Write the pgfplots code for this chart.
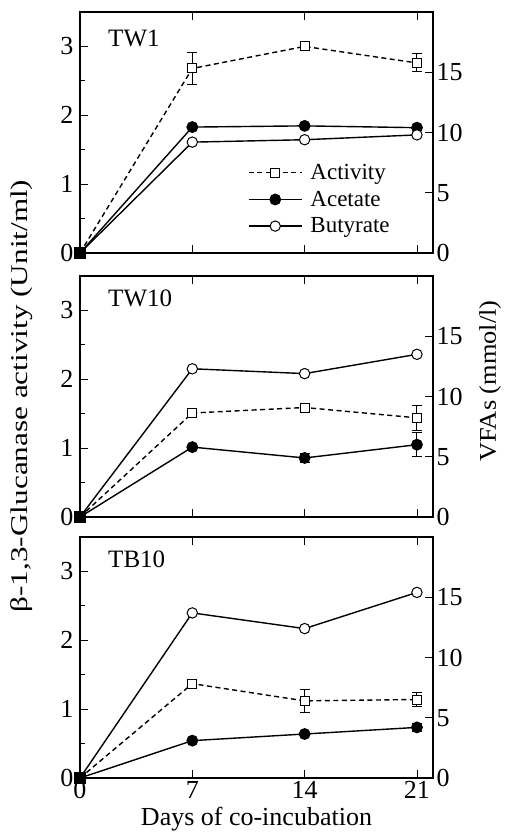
\documentclass[border=0pt]{standalone}
\usepackage{fontspec}
\setmainfont{Liberation Serif}
\usepackage{pgfplots}
\pgfplotsset{compat=1.18}
\newcommand{\fs}[1]{\fontsize{#1}{#1}\selectfont}

\pgfplotsset{
  panel/.style={scale only axis, width=353pt, height=241pt, anchor=south west,
    xmin=0, xmax=22, clip=false, tick align=inside,
    axis line style={line width=1.2pt}, every tick/.style={black, line width=0.9pt},
    major tick length=8pt, minor tick length=5pt,
    tick label style={font=\fs{26}}, /pgf/number format/assume math mode=true},
  lpanel/.style={panel, ymin=0, ymax=3.5, ytick={0,1,2,3}, minor ytick={0.5,1.5,2.5},
    ytick pos=left, xtick={0,7,14,21}, yticklabel style={xshift=-3pt}},
  rpanel/.style={panel, ymin=0, ymax=20, ytick={0,5,10,15},
    axis y line*=right, axis x line=none},
  ebar/.style={error bars/.cd, y dir=both, y explicit,
    error bar style={solid, line width=1pt},
    error mark options={solid, mark size=5pt, line width=1pt, rotate=90}},
  actline/.style={black, line width=1.4pt, dash pattern=on 5pt off 3.5pt,
    mark=square*, mark size=4.5pt, mark options={solid, fill=white, line width=1pt}},
  act/.style={actline, ebar},
  acet/.style={black, line width=1.4pt, mark=*, mark size=5.2pt, ebar},
  buty/.style={black, line width=1.4pt, mark=*, mark size=5.2pt,
    mark options={fill=white, line width=1pt}},
  orig/.style={black, only marks, mark=square*, mark size=5.5pt},
  legend image code/.code={\draw[mark repeat=2,mark phase=2,#1]
    plot coordinates {(0pt,0pt)(26.5pt,0pt)(53pt,0pt)};},
}

\begin{document}
\begin{tikzpicture}[x=1pt,y=1pt]
\useasboundingbox (-80,0) rectangle (425,836);

% TW1
\begin{axis}[lpanel, at={(0pt,583pt)}, xticklabels={}]
\addplot[act] coordinates {(0,0) (7,2.68) +- (0,0.23) (14,3.0) +- (0,0.04) (21,2.76) +- (0,0.13)};
\node[anchor=base west, font=\fs{25}] at (rel axis cs:0.07,0.858) {TW1};
\end{axis}
\begin{axis}[rpanel, at={(0pt,583pt)},
  legend style={draw=none, fill=none, at={(0.467,0.385)}, anchor=north west,
    font=\fs{23}, row sep=6pt, column sep=6pt}, legend cell align=left]
\addlegendimage{actline}
\addlegendentry{Activity}
\addplot[acet] coordinates {(0,0) (7,10.45) (14,10.55) (21,10.4)};
\addlegendentry{Acetate}
\addplot[buty] coordinates {(0,0) (7,9.2) (14,9.4) (21,9.8)};
\addlegendentry{Butyrate}
\addplot[orig, forget plot] coordinates {(0,0)};
\end{axis}

% TW10
\begin{axis}[lpanel, at={(0pt,319pt)}, xticklabels={}]
\addplot[act] coordinates {(0,0) (7,1.51) +- (0,0.03) (14,1.59) +- (0,0.03) (21,1.44) +- (0,0.18)};
\node[anchor=base west, font=\fs{25}] at (rel axis cs:0.07,0.875) {TW10};
\end{axis}
\begin{axis}[rpanel, at={(0pt,319pt)}]
\addplot[acet] coordinates {(0,0) (7,5.8) (14,4.9) +- (0,0.4) (21,6.0) +- (0,1.0)};
\addplot[buty] coordinates {(0,0) (7,12.3) (14,11.9) (21,13.5)};
\addplot[orig] coordinates {(0,0)};
\end{axis}

% TB10
\begin{axis}[lpanel, at={(0pt,58pt)}, xticklabels={0,7,14,21},
  xlabel={Days of co-incubation}, xlabel style={font=\fs{26}, inner sep=0pt, yshift=-5pt}]
\addplot[act] coordinates {(0,0) (7,1.37) (14,1.12) +- (0,0.17) (21,1.14) +- (0,0.1)};
\node[anchor=base west, font=\fs{25}] at (rel axis cs:0.07,0.875) {TB10};
\end{axis}
\begin{axis}[rpanel, at={(0pt,58pt)}]
\addplot[acet] coordinates {(0,0) (7,3.1) (14,3.65) (21,4.2) +- (0,0.3)};
\addplot[buty] coordinates {(0,0) (7,13.7) (14,12.4) (21,15.4)};
\addplot[orig] coordinates {(0,0)};
\end{axis}

\node[rotate=90, font=\fs{24}] at (-58,440) {\scalebox{1.3}[1]{β-1,3-Glucanase activity (Unit/ml)}};
\node[rotate=90, font=\fs{24}] at (410,455) {\scalebox{1.1}[1]{VFAs (mmol/l)}};
\end{tikzpicture}
\end{document}
